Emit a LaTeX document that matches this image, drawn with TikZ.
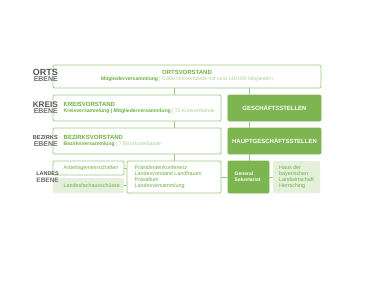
\documentclass[tikz,border=0pt]{standalone}
\usepackage{fontspec}
\setmainfont{Liberation Sans}
\definecolor{frameg}{HTML}{9DCB80}
\definecolor{fillg}{HTML}{7DB651}
\definecolor{textg}{HTML}{6DB040}
\definecolor{subg}{HTML}{A9D18E}
\definecolor{lightg}{HTML}{E4F0DB}
\definecolor{lblgray}{HTML}{555555}
\begin{document}
\begin{tikzpicture}[x=1bp,y=-1bp,
  box/.style={draw=frameg, line width=0.9bp, rounded corners=1.2bp, inner sep=0pt, outer sep=0pt, fill=white},
  darkbox/.style={fill=fillg, draw=fillg, line width=0.9bp, rounded corners=1.2bp, inner sep=0pt, outer sep=0pt},
  lightbox/.style={fill=lightg, draw=none, rounded corners=1.2bp, inner sep=0pt, outer sep=0pt},
  conn/.style={draw=frameg, line width=0.9bp},
  head/.style={inner sep=0pt, text=textg, font=\fontsize{6}{7}\selectfont\bfseries},
  sub/.style={inner sep=0pt, text=subg, font=\fontsize{5.1}{6}\selectfont},
  whitehead/.style={inner sep=0pt, text=white, font=\fontsize{6}{7}\selectfont\bfseries},
  small/.style={inner sep=0pt, text=textg, font=\fontsize{5.4}{6.2}\selectfont, align=left},
  smallw/.style={inner sep=0pt, text=white, font=\fontsize{5}{6}\selectfont\bfseries, align=left},
  lbl/.style={inner sep=0pt, anchor=east, text=lblgray, font=\bfseries}
]
\useasboundingbox (0,0) rectangle (375,281);
\fill[white] (0,0) rectangle (375,281);

% column coordinates
\coordinate (colA) at (174,0);
\coordinate (colB) at (249,0);

% boxes
\node[box, minimum width=268bp, minimum height=23bp] (orts) at (187,76.5) {};
\node[box, minimum width=168bp, minimum height=26bp] (kreis) at (137,108) {};
\node[darkbox, minimum width=93bp, minimum height=26bp] (gst) at (274.5,108) {};
\node[box, minimum width=168bp, minimum height=26bp] (bez) at (137,141) {};
\node[darkbox, minimum width=93bp, minimum height=26bp] (hgst) at (274.5,141) {};
\node[box, minimum width=71bp, minimum height=14bp] (arb) at (88.5,168) {};
\node[lightbox, minimum width=71bp, minimum height=15bp] (lfa) at (88.5,185.5) {};
\node[box, minimum width=94bp, minimum height=32bp] (praes) at (174,177) {};
\node[darkbox, minimum width=41bp, minimum height=32bp] (gs) at (248.5,177) {};
\node[lightbox, minimum width=47bp, minimum height=32bp] (haus) at (296.5,177) {};

% connectors
\draw[conn] (orts.south -| colA) -- (kreis.north -| colA);
\draw[conn] (orts.south -| colB) -- (gst.north -| colB);
\draw[conn] (kreis.south -| colA) -- (bez.north -| colA);
\draw[conn] (gst.south -| colB) -- (hgst.north -| colB);
\draw[conn] (bez.south -| colA) -- (praes.north -| colA);
\draw[conn] (hgst.south -| colB) -- (gs.north -| colB);
\draw[conn] (arb.east) -- (praes.west |- arb.east);
\draw[conn] (lfa.east) -- (praes.west |- lfa.east);
\draw[conn] (praes.east) -- (gs.west);
\draw[conn] (gs.east) -- (haus.west);

% level labels
\node[lbl, font=\fontsize{9}{9}\selectfont\bfseries] (lo1) at (58,72.3) {ORTS};
\node[lbl, font=\fontsize{7}{7}\selectfont\bfseries, text=lblgray!85] (lo2) at (58,79.3) {EBENE};
\node[lbl, font=\fontsize{8.2}{8}\selectfont\bfseries] (lk1) at (58,104.3) {KREIS};
\node[lbl, font=\fontsize{7}{7}\selectfont\bfseries, text=lblgray!85] (lk2) at (58,111.3) {EBENE};
\node[lbl, font=\fontsize{5.7}{6}\selectfont\bfseries] (lb1) at (58,137.3) {BEZIRKS};
\node[lbl, font=\fontsize{7}{7}\selectfont\bfseries, text=lblgray!85] (lb2) at (58,144.3) {EBENE};
\node[lbl, font=\fontsize{5.5}{6}\selectfont\bfseries] (ll1) at (59,173.3) {LANDES};
\node[lbl, font=\fontsize{6.5}{7}\selectfont\bfseries, text=lblgray!85] (ll2) at (59,180.5) {EBENE};

% texts
\node[head] (ortsT) at (187,72) {ORTSVORSTAND};
\node[sub] (ortsS) at (187,79.5) {\textcolor{textg}{\bfseries Mitgliederversammlung} | 5.800 Ortsverbände mit rund 140.000 Mitgliedern};
\node[head, anchor=west] (kreisT) at (63.5,104.3) {KREISVORSTAND};
\node[sub, anchor=west] (kreisS) at (63.5,111.5) {\textcolor{textg}{\bfseries Kreisversammlung | Mitgliederversammlung} | 72 Kreisverbände};
\node[head, anchor=west] (bezT) at (63.5,137.3) {BEZIRKSVORSTAND};
\node[sub, anchor=west] (bezS) at (63.5,144.5) {\textcolor{textg}{\bfseries Bezirksversammlung} | 7 Bezirksverbände};
\node[whitehead] (gstT) at (gst.center) {GESCHÄFTSSTELLEN};
\node[whitehead] (hgstT) at (hgst.center) {HAUPTGESCHÄFTSSTELLEN};
\node[small, anchor=west] (arbT) at (63.5,168) {Arbeitsgemeinschaften};
\node[small, anchor=west] (lfaT) at (63.5,185.8) {Landesfachausschüsse};
\node[small, anchor=west] (praesT) at (134.5,177.2) {Präsidentenkonferenz\\Landesvorstand Landfrauen\\Präsidium\\Landesversammlung};
\node[smallw, anchor=west] (gsT) at (234.5,177) {General\\Sekretariat};
\node[small, anchor=west] (hausT) at (279,177) {Haus der\\bayerischen\\Landwirtschaft\\Herrsching};
\end{tikzpicture}
\end{document}
